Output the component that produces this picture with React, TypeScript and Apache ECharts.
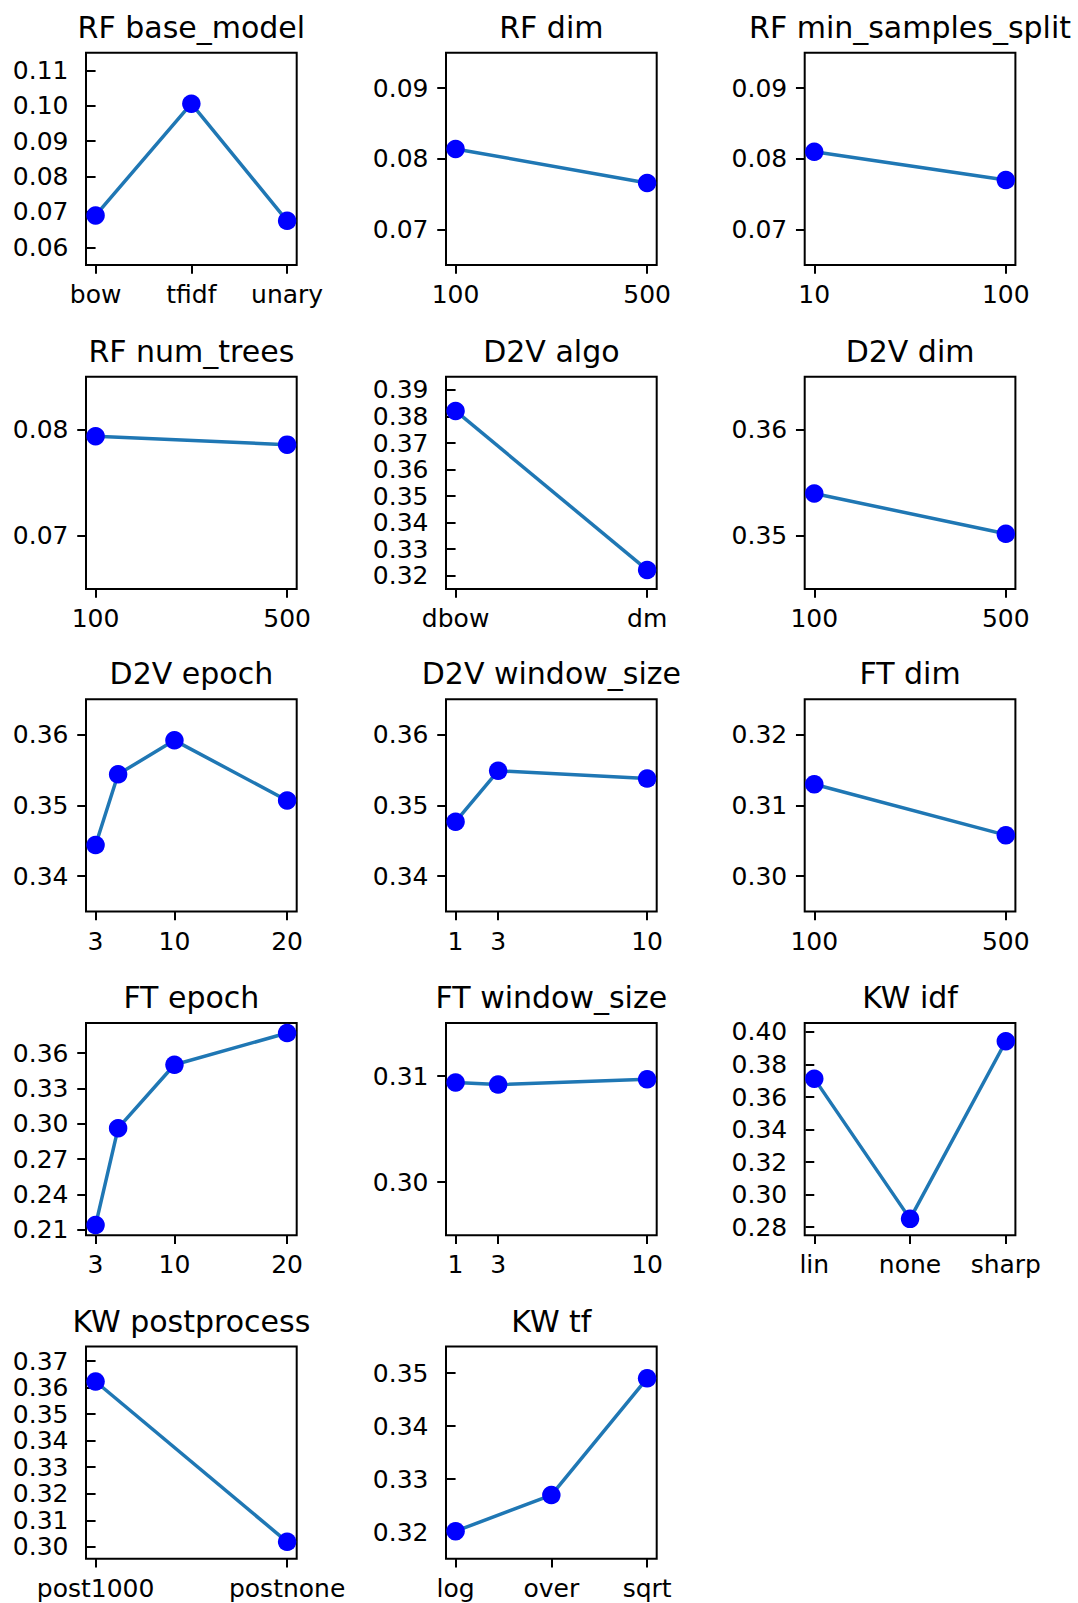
import React, { useEffect, useRef } from 'react';
import * as echarts from 'echarts';

// ---- data ----
const rfBaseModelX = ['bow', 'tfidf', 'unary'];
const rfBaseModelY = [0.069, 0.1006, 0.0675];

const rfDimX = [100, 500];
const rfDimY = [0.0814, 0.0766];

const rfMinSplitX = [10, 100];
const rfMinSplitY = [0.081, 0.077];

const rfNumTreesX = [100, 500];
const rfNumTreesY = [0.0794, 0.0786];

const d2vAlgoX = ['dbow', 'dm'];
const d2vAlgoY = [0.3821, 0.3222];

const d2vDimX = [100, 500];
const d2vDimY = [0.354, 0.3502];

const d2vEpochX = [3, 5, 10, 20];
const d2vEpochY = [0.3444, 0.3544, 0.3592, 0.3507];

const d2vWindowX = [1, 3, 10];
const d2vWindowY = [0.3477, 0.3549, 0.3538];

const ftDimX = [100, 500];
const ftDimY = [0.313, 0.3058];

const ftEpochX = [3, 5, 10, 20];
const ftEpochY = [0.2142, 0.2963, 0.3501, 0.377];

const ftWindowX = [1, 3, 10];
const ftWindowY = [0.3094, 0.3092, 0.3097];

const kwIdfX = ['lin', 'none', 'sharp'];
const kwIdfY = [0.3713, 0.2851, 0.3943];

const kwPostX = ['post1000', 'postnone'];
const kwPostY = [0.3623, 0.3019];

const kwTfX = ['log', 'over', 'sqrt'];
const kwTfY = [0.3202, 0.327, 0.349];

// tick labels
const rfBaseTicks = [0.06, 0.07, 0.08, 0.09, 0.1, 0.11];
const rfDimTicks = [0.07, 0.08, 0.09];
const rfTreesTicks = [0.07, 0.08];
const d2vAlgoTicks = [0.32, 0.33, 0.34, 0.35, 0.36, 0.37, 0.38, 0.39];
const d2vDimTicks = [0.35, 0.36];
const d2vTicks = [0.34, 0.35, 0.36];
const ftDimTicks = [0.3, 0.31, 0.32];
const ftEpochTicks = [0.21, 0.24, 0.27, 0.3, 0.33, 0.36];
const ftWindowTicks = [0.3, 0.31];
const kwIdfTicks = [0.28, 0.3, 0.32, 0.34, 0.36, 0.38, 0.4];
const kwPostTicks = [0.3, 0.31, 0.32, 0.33, 0.34, 0.35, 0.36, 0.37];
const kwTfTicks = [0.32, 0.33, 0.34, 0.35];
const epochXTicks = [3, 10, 20];
const windowXTicks = [1, 3, 10];

type Panel = {
  title: string;
  x: (string | number)[];
  y: number[];
  yTicks: number[];
  yRange: [number, number];
  xTicks?: number[];
};

const panels: Panel[] = [
  { title: 'RF base_model', x: rfBaseModelX, y: rfBaseModelY, yTicks: rfBaseTicks, yRange: [0.055, 0.115] },
  { title: 'RF dim', x: rfDimX, y: rfDimY, yTicks: rfDimTicks, yRange: [0.065, 0.095] },
  { title: 'RF min_samples_split', x: rfMinSplitX, y: rfMinSplitY, yTicks: rfDimTicks, yRange: [0.065, 0.095] },
  { title: 'RF num_trees', x: rfNumTreesX, y: rfNumTreesY, yTicks: rfTreesTicks, yRange: [0.065, 0.085] },
  { title: 'D2V algo', x: d2vAlgoX, y: d2vAlgoY, yTicks: d2vAlgoTicks, yRange: [0.315, 0.395] },
  { title: 'D2V dim', x: d2vDimX, y: d2vDimY, yTicks: d2vDimTicks, yRange: [0.345, 0.365] },
  { title: 'D2V epoch', x: d2vEpochX, y: d2vEpochY, yTicks: d2vTicks, yRange: [0.335, 0.365], xTicks: epochXTicks },
  { title: 'D2V window_size', x: d2vWindowX, y: d2vWindowY, yTicks: d2vTicks, yRange: [0.335, 0.365], xTicks: windowXTicks },
  { title: 'FT dim', x: ftDimX, y: ftDimY, yTicks: ftDimTicks, yRange: [0.295, 0.325] },
  { title: 'FT epoch', x: ftEpochX, y: ftEpochY, yTicks: ftEpochTicks, yRange: [0.2055, 0.3855], xTicks: epochXTicks },
  { title: 'FT window_size', x: ftWindowX, y: ftWindowY, yTicks: ftWindowTicks, yRange: [0.295, 0.315], xTicks: windowXTicks },
  { title: 'KW idf', x: kwIdfX, y: kwIdfY, yTicks: kwIdfTicks, yRange: [0.275, 0.4055] },
  { title: 'KW postprocess', x: kwPostX, y: kwPostY, yTicks: kwPostTicks, yRange: [0.2955, 0.3755] },
  { title: 'KW tf', x: kwTfX, y: kwTfY, yTicks: kwTfTicks, yRange: [0.315, 0.355] },
];

// ---- layout ----
const COL_LEFT = [86, 446, 804.7];
const ROW_TOP = [52.7, 376.7, 699.3, 1023, 1346.5];
const BOX_W = 210.7;
const BOX_H = 212.3;
const FONT = 'DejaVu Sans';

function buildOption() {
  const grid: any[] = [];
  const xAxis: any[] = [];
  const yAxis: any[] = [];
  const series: any[] = [];
  const title: any[] = [];

  panels.forEach((p, i) => {
    const col = i % 3;
    const row = Math.floor(i / 3);
    const left = COL_LEFT[col];
    const top = ROW_TOP[row];
    grid.push({
      left,
      top,
      width: BOX_W,
      height: BOX_H,
      show: true,
      borderColor: '#000',
      borderWidth: 2,
      backgroundColor: 'transparent',
      containLabel: false,
    });

    const categorical = typeof p.x[0] === 'string';
    const pos = categorical ? p.x.map((_, k) => k) : (p.x as number[]);
    const lo = Math.min(...pos);
    const hi = Math.max(...pos);
    const pad = (hi - lo) * 0.05;
    const xt = categorical ? pos : p.xTicks ?? (p.x as number[]);

    xAxis.push({
      type: 'value',
      gridIndex: i,
      min: lo - pad,
      max: hi + pad,
      axisLine: { show: false },
      splitLine: { show: false },
      axisTick: {
        show: true,
        inside: false,
        length: 8.75,
        lineStyle: { color: '#000', width: 2 },
        customValues: xt,
      },
      axisLabel: {
        show: true,
        margin: 17,
        fontSize: 25,
        fontFamily: FONT,
        color: '#000',
        customValues: xt,
        formatter: (v: number) => (categorical ? String(p.x[Math.round(v)]) : String(v)),
      },
    });

    yAxis.push({
      type: 'value',
      gridIndex: i,
      min: p.yRange[0],
      max: p.yRange[1],
      axisLine: { show: false },
      splitLine: { show: false },
      axisTick: {
        show: true,
        inside: false,
        length: 8.75,
        lineStyle: { color: '#000', width: 2 },
        customValues: p.yTicks,
      },
      axisLabel: {
        show: true,
        margin: 17.5,
        fontSize: 25,
        fontFamily: FONT,
        color: '#000',
        customValues: p.yTicks,
        formatter: (v: number) => v.toFixed(2),
      },
    });

    series.push({
      type: 'line',
      xAxisIndex: i,
      yAxisIndex: i,
      data: pos.map((x, k) => [x, p.y[k]]),
      symbol: 'circle',
      symbolSize: 18.5,
      showSymbol: true,
      clip: false,
      lineStyle: { color: '#1f77b4', width: 3.5 },
      itemStyle: { color: '#0000ff', borderWidth: 0 },
      emphasis: { disabled: true },
    });

    title.push({
      text: p.title,
      left: left + BOX_W / 2,
      top: top - 40.4,
      padding: 0,
      textAlign: 'center',
      textStyle: { fontSize: 30, fontWeight: 'normal', fontFamily: FONT, color: '#000' },
    });
  });

  return {
    animation: false,
    backgroundColor: '#fff',
    title,
    grid,
    xAxis,
    yAxis,
    series,
  };
}

export default function App() {
  const ref = useRef<HTMLDivElement>(null);
  useEffect(() => {
    document.body.style.margin = '0';
    const chart = echarts.init(ref.current!, null, { renderer: 'svg' });
    chart.setOption(buildOption() as any);
    return () => chart.dispose();
  }, []);
  return <div ref={ref} style={{ width: 1078, height: 1603 }} />;
}
